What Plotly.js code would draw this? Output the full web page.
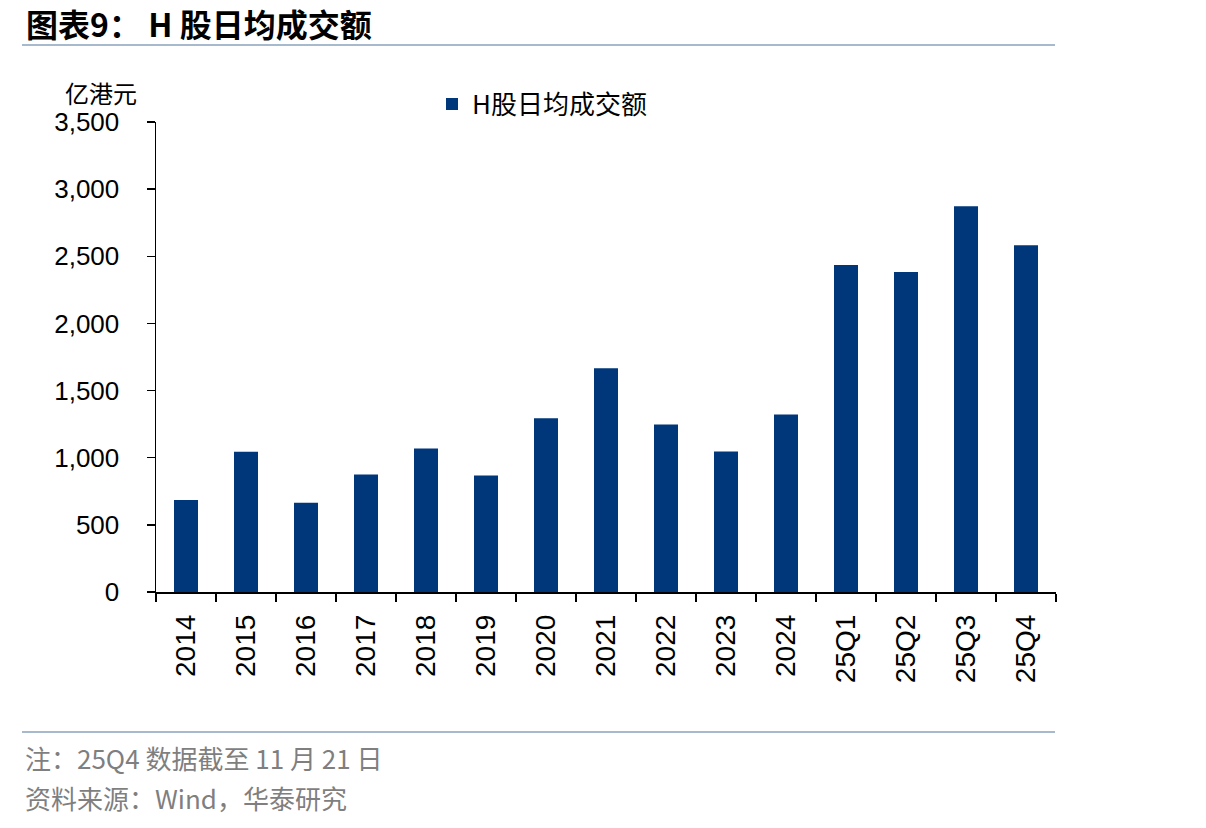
<!DOCTYPE html>
<html>
<head>
<meta charset="utf-8">
<script src="https://cdn.plot.ly/plotly-3.0.1.min.js"></script>
<style>html,body{margin:0;padding:0;background:#fff;}#chart{width:1206px;height:828px;}</style>
</head>
<body>
<div id="chart"></div>
<script>
const categories = ["2014","2015","2016","2017","2018","2019","2020","2021","2022","2023","2024","25Q1","25Q2","25Q3","25Q4"];
const turnover = [686, 1045, 664, 875, 1069, 868, 1293, 1666, 1248, 1047, 1321, 2435, 2383, 2873, 2582];
const yTicks = [0, 500, 1000, 1500, 2000, 2500, 3000, 3500];
const seriesName = "H股日均成交额";
const titleText = "图表9： H 股日均成交额";
const unitText = "亿港元";
const noteText = "注：25Q4 数据截至 11 月 21 日";
const sourceText = "资料来源：Wind，华泰研究";

const W = 1206, H = 828;
const M = {l:156, r:150, t:122, b:236};
const PW = W - M.l - M.r, PH = H - M.t - M.b;
const px = x => (x - M.l) / PW;
const py = y => (H - M.b - y) / PH;

const CJK = '"Noto Sans CJK SC", "Liberation Sans", sans-serif';
const NUM = '"Liberation Sans", Arial, sans-serif';

const data = [{
  type: 'bar',
  x: categories,
  y: turnover,
  name: seriesName,
  width: 0.4,
  marker: {color: '#00377A', line: {width: 0}},
  hoverinfo: 'x+y'
}];

const layout = {
  width: W, height: H,
  margin: M,
  paper_bgcolor: '#fff', plot_bgcolor: '#fff',
  showlegend: true,
  legend: {
    orientation: 'h', x: px(432), xanchor: 'left', y: py(104), yanchor: 'middle',
    font: {family: CJK, size: 26, color: '#000'}, bgcolor: 'rgba(0,0,0,0)'
  },
  xaxis: {
    type: 'category', range: [-0.5, 14.5],
    showline: true, linecolor: '#000', linewidth: 1.5,
    ticks: 'outside', tickson: 'boundaries', ticklen: 8, tickwidth: 1.5, tickcolor: '#000',
    tickangle: -90, tickfont: {family: NUM, size: 28, color: '#000'},
    ticklabelstandoff: 10,
    showgrid: false, zeroline: false, fixedrange: true
  },
  yaxis: {
    range: [0, 3500], tickvals: yTicks, tickformat: ',.0f',
    showline: true, linecolor: '#000', linewidth: 1.5,
    ticks: 'outside', ticklen: 8, tickwidth: 1.5, tickcolor: '#000',
    tickfont: {family: NUM, size: 26, color: '#000'},
    ticklabelstandoff: 22,
    showgrid: false, zeroline: false, fixedrange: true
  },
  shapes: [
    {type: 'line', xref: 'paper', yref: 'paper', x0: px(22), x1: px(1055), y0: py(45), y1: py(45), line: {color: '#A7BACD', width: 2}},
    {type: 'line', xref: 'paper', yref: 'paper', x0: px(22), x1: px(1055), y0: py(732), y1: py(732), line: {color: '#A7BACD', width: 2}}
  ],
  annotations: [
    {text: '<b>' + titleText + '</b>', xref: 'paper', yref: 'paper', x: px(24), y: py(23), xanchor: 'left', yanchor: 'middle', showarrow: false, font: {family: CJK, size: 32, color: '#000'}},
    {text: unitText, xref: 'paper', yref: 'paper', x: px(101), y: py(92), xanchor: 'center', yanchor: 'middle', showarrow: false, font: {family: CJK, size: 24, color: '#000'}},
    {text: noteText, xref: 'paper', yref: 'paper', x: px(23), y: py(757), xanchor: 'left', yanchor: 'middle', showarrow: false, font: {family: CJK, size: 26, color: '#7F7F7F'}},
    {text: sourceText, xref: 'paper', yref: 'paper', x: px(23), y: py(797), xanchor: 'left', yanchor: 'middle', showarrow: false, font: {family: CJK, size: 26, color: '#7F7F7F'}}
  ]
};

Plotly.newPlot('chart', data, layout, {displayModeBar: false, staticPlot: true});
</script>
</body>
</html>
